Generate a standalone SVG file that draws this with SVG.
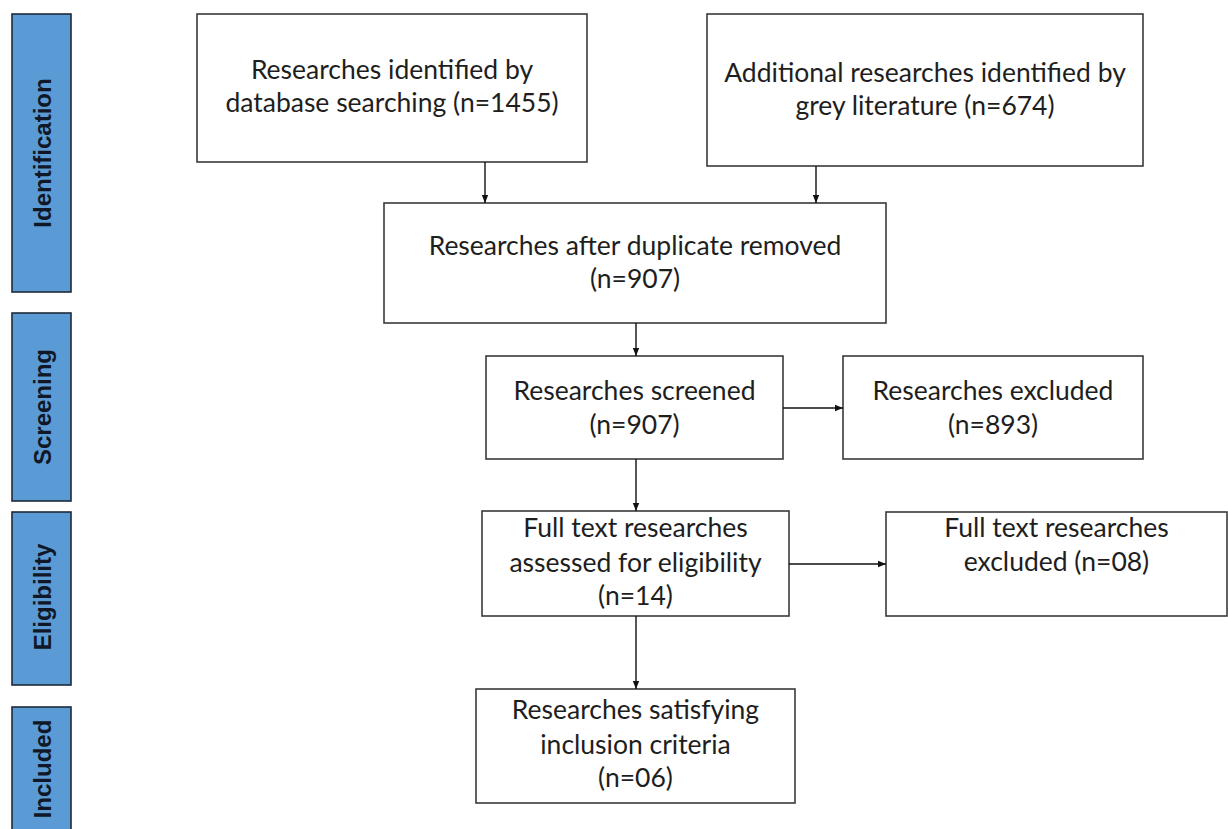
<svg xmlns="http://www.w3.org/2000/svg" width="1228" height="829" viewBox="0 0 1228 829">
<style>
.box{fill:#ffffff;stroke:#3a3a3a;stroke-width:1.6}
.stage{fill:#5b9bd5;stroke:#1f2a3a;stroke-width:1.6}
.t{font-family:Lato,"Liberation Sans",sans-serif;font-size:26.5px;fill:#1e1e1e;text-anchor:middle}
.s{font-family:"Liberation Sans",Arial,sans-serif;font-weight:bold;font-size:24px;fill:#101828;text-anchor:middle}
.c{stroke:#111;stroke-width:1.4;fill:none;marker-end:url(#ah)}
</style>
<defs>
<marker id="ah" viewBox="0 0 10 10" refX="10" refY="5" markerWidth="9" markerHeight="8" markerUnits="userSpaceOnUse" orient="auto">
<path d="M0,1 L10,5 L0,9 Z" fill="#111"/>
</marker>
</defs>
<rect width="1228" height="829" fill="#ffffff"/>
<g id="stage-identification">
<rect class="stage" x="12" y="14" width="59" height="278"/>
<text class="s" transform="translate(51,153) rotate(-90)">Identification</text>
</g>
<g id="stage-screening">
<rect class="stage" x="12" y="313" width="59" height="188"/>
<text class="s" transform="translate(51,407) rotate(-90)">Screening</text>
</g>
<g id="stage-eligibility">
<rect class="stage" x="12" y="512" width="59" height="173"/>
<text class="s" transform="translate(51,597) rotate(-90)">Eligibility</text>
</g>
<g id="stage-included">
<rect class="stage" x="12" y="707" width="59" height="130"/>
<text class="s" transform="translate(51,769) rotate(-90)">Included</text>
</g>
<g id="n-database">
<rect class="box" x="197" y="14" width="390" height="148"/>
<text class="t" x="392" y="79">Researches identified by</text>
<text class="t" x="392" y="112">database searching (n=1455)</text>
</g>
<g id="n-grey">
<rect class="box" x="707" y="14" width="436" height="152"/>
<text class="t" x="925" y="82">Additional researches identified by</text>
<text class="t" x="925" y="115">grey literature (n=674)</text>
</g>
<g id="n-dup">
<rect class="box" x="384" y="203" width="502" height="120"/>
<text class="t" x="635" y="255">Researches after duplicate removed</text>
<text class="t" x="635" y="288">(n=907)</text>
</g>
<g id="n-screened">
<rect class="box" x="486" y="356" width="297" height="103"/>
<text class="t" x="634.5" y="400">Researches screened</text>
<text class="t" x="634.5" y="434">(n=907)</text>
</g>
<g id="n-excluded">
<rect class="box" x="843" y="356" width="300" height="103"/>
<text class="t" x="993" y="400">Researches excluded</text>
<text class="t" x="993" y="434">(n=893)</text>
</g>
<g id="n-eligibility">
<rect class="box" x="482" y="511" width="307" height="105"/>
<text class="t" x="635.5" y="537">Full text researches</text>
<text class="t" x="635.5" y="572">assessed for eligibility</text>
<text class="t" x="635.5" y="605">(n=14)</text>
</g>
<g id="n-ft-excluded">
<rect class="box" x="886" y="512" width="341" height="104"/>
<text class="t" x="1056.5" y="537">Full text researches</text>
<text class="t" x="1056.5" y="571">excluded (n=08)</text>
</g>
<g id="n-included">
<rect class="box" x="476" y="689" width="319" height="114"/>
<text class="t" x="635.5" y="719">Researches satisfying</text>
<text class="t" x="635.5" y="754">inclusion criteria</text>
<text class="t" x="635.5" y="787">(n=06)</text>
</g>
<g id="connectors">
<path class="c" d="M485,162 V203"/>
<path class="c" d="M816,166 V203"/>
<path class="c" d="M636,323 V356"/>
<path class="c" d="M783,408 H843"/>
<path class="c" d="M636,459 V511"/>
<path class="c" d="M789,564 H886"/>
<path class="c" d="M636,616 V689"/>
</g>
</svg>
